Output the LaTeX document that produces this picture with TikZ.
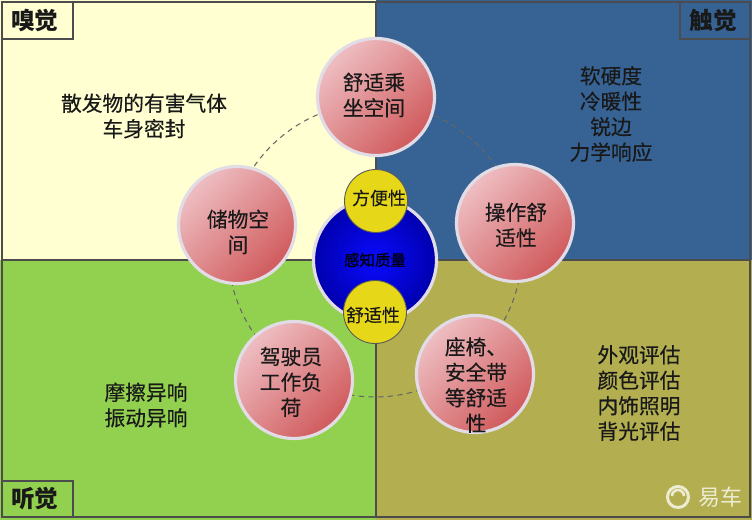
\documentclass[tikz,border=0pt]{standalone}
\usepackage{fontspec}
\setmainfont{Noto Sans CJK SC}
\newfontfamily\cjkm[FakeBold=0.35]{Noto Sans CJK SC}
\usetikzlibrary{shadings}
\begin{document}
\begin{tikzpicture}[x=0.02cm,y=-0.02cm,
  txt/.style={font=\cjkm\fontsize{11.8}{14.5}\selectfont,align=center,text=black!90,inner sep=0pt},
  sense/.style={font=\bfseries\fontsize{13.5}{16}\selectfont,text=black!90,inner sep=0pt},
  big/.style={circle,minimum size=2.34cm,inner sep=0pt,draw=pk,line width=1.8pt,top color=rl,bottom color=rd,shading angle=45},
  yel/.style={circle,minimum size=1.26cm,inner sep=0pt,fill=ye,draw=gray!70!black,line width=.5pt},
  ylab/.style={font=\cjkm\fontsize{10.2}{12}\selectfont,text=black!90,inner sep=0pt},
  hub/.style={circle,minimum size=2.46cm,inner sep=0pt,inner color=blue!96!white,outer color=blue!68!black,draw=pk,line width=1.8pt,font=\cjkm\fontsize{8.8}{11}\selectfont,text=black},
  tag/.style={draw=black!70,line width=.7pt},
  ring/.style={circle,draw=black!60,dash pattern=on 3pt off 2.5pt,line width=.6pt,minimum size=5.88cm,inner sep=0pt}]
\useasboundingbox (0,0) rectangle (752,520);
\definecolor{cy}{HTML}{FFFFD2}
\definecolor{cb}{HTML}{376394}
\definecolor{cg}{HTML}{92D050}
\definecolor{co}{HTML}{B3AE4F}
\definecolor{pk}{HTML}{E2DCE6}
\definecolor{rl}{HTML}{EEBEC2}
\definecolor{rd}{HTML}{D05A5C}
\definecolor{ye}{HTML}{E6D818}
\definecolor{wm}{HTML}{EDEBD2}
\fill[cy] (0,0) rectangle (376,260);
\fill[cb] (376,0) rectangle (752,260);
\fill[cg] (0,260) rectangle (376,520);
\fill[co] (376,260) rectangle (752,520);
\draw[black!70,line width=.7pt] (2,2) rectangle (750,517) (2,260) -- (750,260) (376,2) -- (376,517);
\draw[tag] (2,2) rectangle (73,39);
\draw[tag] (680,2) rectangle (750,39);
\draw[tag] (2,481) rectangle (73,517);
\node[sense] (s1) at (35,21) {嗅觉};
\node[sense] (s2) at (713,21) {触觉};
\node[sense] (s3) at (35,499) {听觉};
\node[txt] (t1) at (144,116) {散发物的有害气体\\车身密封};
\node[txt] (t2) at (611,114) {软硬度\\冷暖性\\锐边\\力学响应};
\node[txt] (t3) at (146,405) {摩擦异响\\振动异响};
\node[txt] (t4) at (639,393) {外观评估\\颜色评估\\内饰照明\\背光评估};
\node[ring] (r) at (375,250) {};
\node[big] (a) at (376,97) {};
\node[big] (b) at (515,223) {};
\node[big] (c) at (475,374) {};
\node[big] (d) at (294,380) {};
\node[big] (e) at (237,225) {};
\node[txt] (la) at (374,95) {舒适乘\\坐空间};
\node[txt] (lb) at (516,225) {操作舒\\适性};
\node[txt] (lc) at (476,385) {座椅、\\安全带\\等舒适\\性};
\node[txt] (ld) at (291,382) {驾驶员\\工作负\\荷};
\node[txt] (le) at (238,232) {储物空\\间};
\node[hub] (h) at (375,260) {感知质量};
\node[yel] (y1) at (376,201) {};
\node[yel] (y2) at (375,312) {};
\node[ylab] (ly1) at (379,198) {方便性};
\node[ylab] (ly2) at (373,315) {舒适性};
\draw[wm,line width=1.7pt] (678,497) circle (10.5);
\draw[wm,line width=1.5pt] (672,496) arc (180:360:6);
\node[font=\fontsize{12.5}{14}\selectfont,text=wm,inner sep=0pt] (w) at (720,497) {易车};
\end{tikzpicture}
\end{document}
